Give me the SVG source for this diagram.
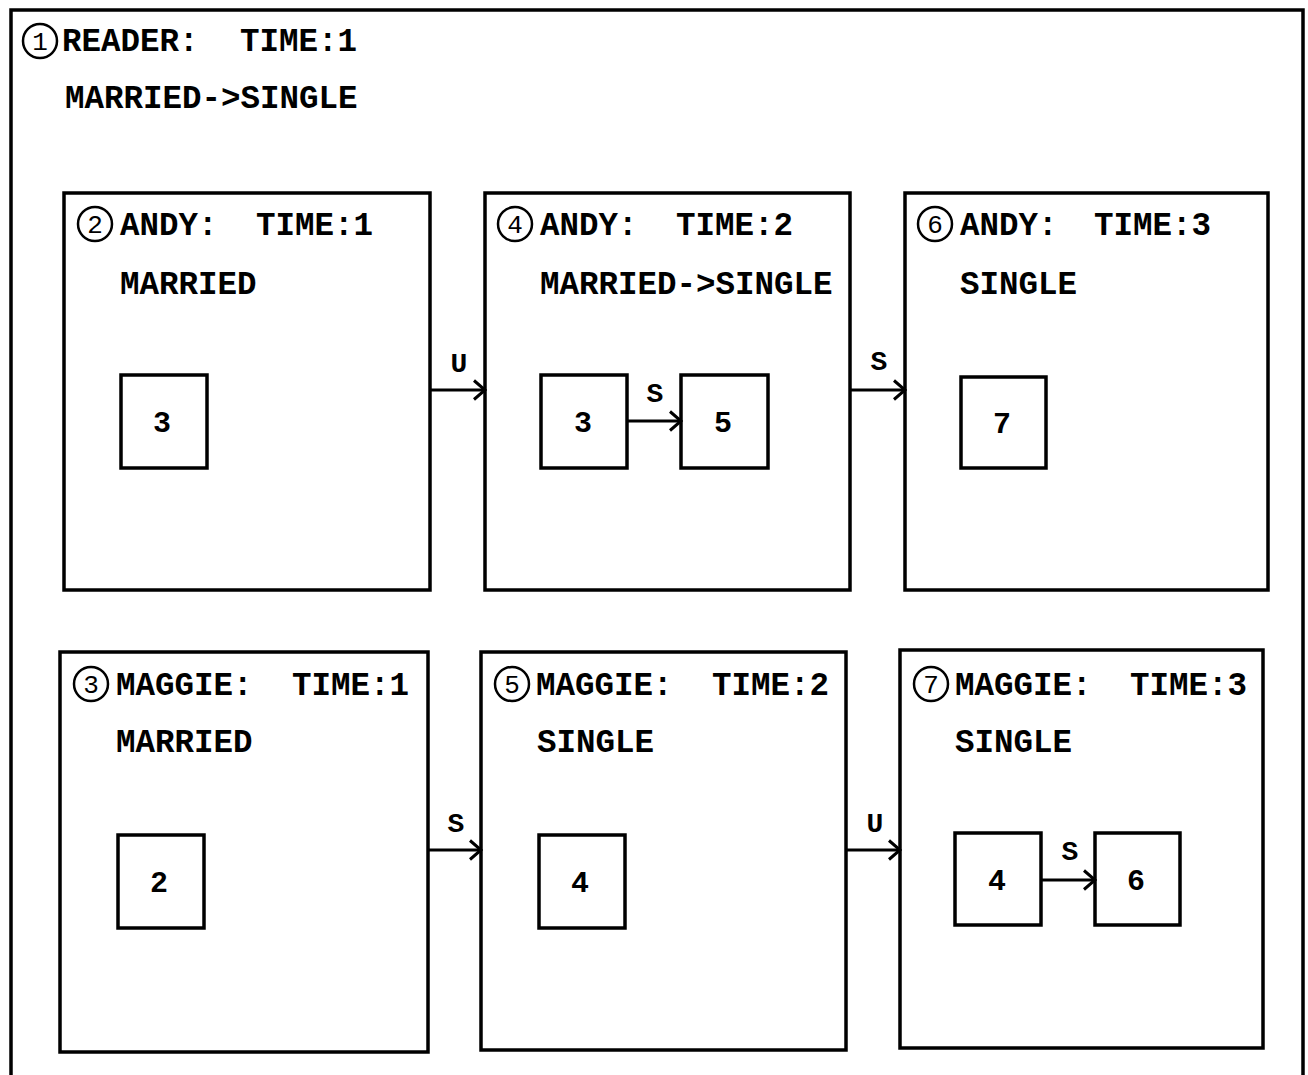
<svg xmlns="http://www.w3.org/2000/svg" width="1308" height="1075" viewBox="0 0 1308 1075">
<style>
text{font-family:"Liberation Mono","DejaVu Sans Mono",monospace;font-weight:bold;font-size:32.5px;fill:#000}
.num{font-size:30px;text-anchor:middle}
.lbl{font-size:28px;text-anchor:middle}
.cn{font-size:26px;text-anchor:middle;font-weight:normal}
.box{fill:none;stroke:#000;stroke-width:3.5}
.circ{fill:none;stroke:#000;stroke-width:2.5}
.edge{fill:none;stroke:#000;stroke-width:3;marker-end:url(#ah)}
</style>
<defs>
<marker id="ah" viewBox="0 0 14 22" refX="12.5" refY="11" markerWidth="14" markerHeight="22" markerUnits="userSpaceOnUse" orient="auto">
<path d="M1.5,1.5 L12.5,11 L1.5,20.5" fill="none" stroke="#000" stroke-width="3"/>
</marker>
</defs>
<rect width="1308" height="1075" fill="#fff"/>
<g id="reader">
<path class="box" d="M11,1075 V10 H1303 V1075"/>
<circle class="circ" cx="40" cy="41" r="17"/><text class="cn" x="40" y="50">1</text>
<text x="62" y="51">READER:</text><text x="240" y="51">TIME:1</text>
<text x="65" y="108">MARRIED-&gt;SINGLE</text>
</g>
<g id="andy1">
<rect class="box" x="64" y="193" width="366" height="397"/>
<circle class="circ" cx="95" cy="224" r="17"/><text class="cn" x="95" y="233">2</text>
<text x="120" y="235">ANDY:</text><text x="256" y="235">TIME:1</text>
<text x="120" y="294">MARRIED</text>
<rect class="box" x="121" y="375" width="86" height="93"/><text class="num" x="162" y="432">3</text>
</g>
<g id="andy2">
<rect class="box" x="485" y="193" width="365" height="397"/>
<circle class="circ" cx="515" cy="224" r="17"/><text class="cn" x="515" y="233">4</text>
<text x="540" y="235">ANDY:</text><text x="676" y="235">TIME:2</text>
<text x="540" y="294">MARRIED-&gt;SINGLE</text>
<rect class="box" x="541" y="375" width="86" height="93"/><text class="num" x="583" y="432">3</text>
<rect class="box" x="681" y="375" width="87" height="93"/><text class="num" x="723" y="432">5</text>
</g>
<g id="andy3">
<rect class="box" x="905" y="193" width="363" height="397"/>
<circle class="circ" cx="935" cy="224" r="17"/><text class="cn" x="935" y="233">6</text>
<text x="960" y="235">ANDY:</text><text x="1094" y="235">TIME:3</text>
<text x="960" y="294">SINGLE</text>
<rect class="box" x="961" y="377" width="85" height="91"/><text class="num" x="1002" y="433">7</text>
</g>
<g id="maggie1">
<rect class="box" x="60" y="652" width="368" height="400"/>
<circle class="circ" cx="91" cy="684" r="17"/><text class="cn" x="91" y="693">3</text>
<text x="116" y="695">MAGGIE:</text><text x="292" y="695">TIME:1</text>
<text x="116" y="752">MARRIED</text>
<rect class="box" x="118" y="835" width="86" height="93"/><text class="num" x="159" y="892">2</text>
</g>
<g id="maggie2">
<rect class="box" x="481" y="652" width="365" height="398"/>
<circle class="circ" cx="512" cy="684" r="17"/><text class="cn" x="512" y="693">5</text>
<text x="536" y="695">MAGGIE:</text><text x="712" y="695">TIME:2</text>
<text x="537" y="752">SINGLE</text>
<rect class="box" x="539" y="835" width="86" height="93"/><text class="num" x="580" y="892">4</text>
</g>
<g id="maggie3">
<rect class="box" x="900" y="650" width="363" height="398"/>
<circle class="circ" cx="931" cy="684" r="17"/><text class="cn" x="931" y="693">7</text>
<text x="955" y="695">MAGGIE:</text><text x="1130" y="695">TIME:3</text>
<text x="955" y="752">SINGLE</text>
<rect class="box" x="955" y="833" width="86" height="92"/><text class="num" x="997" y="890">4</text>
<rect class="box" x="1095" y="833" width="85" height="92"/><text class="num" x="1136" y="890">6</text>
</g>
<g id="connectors">
<path class="edge" d="M430,390 H485"/><text class="lbl" x="459" y="372">U</text>
<path class="edge" d="M850,390 H905"/><text class="lbl" x="879" y="370">S</text>
<path class="edge" d="M627,421 H681"/><text class="lbl" x="655" y="402">S</text>
<path class="edge" d="M428,850 H481"/><text class="lbl" x="456" y="832">S</text>
<path class="edge" d="M846,850 H900"/><text class="lbl" x="875" y="832">U</text>
<path class="edge" d="M1041,880 H1095"/><text class="lbl" x="1070" y="860">S</text>
</g>
</svg>
